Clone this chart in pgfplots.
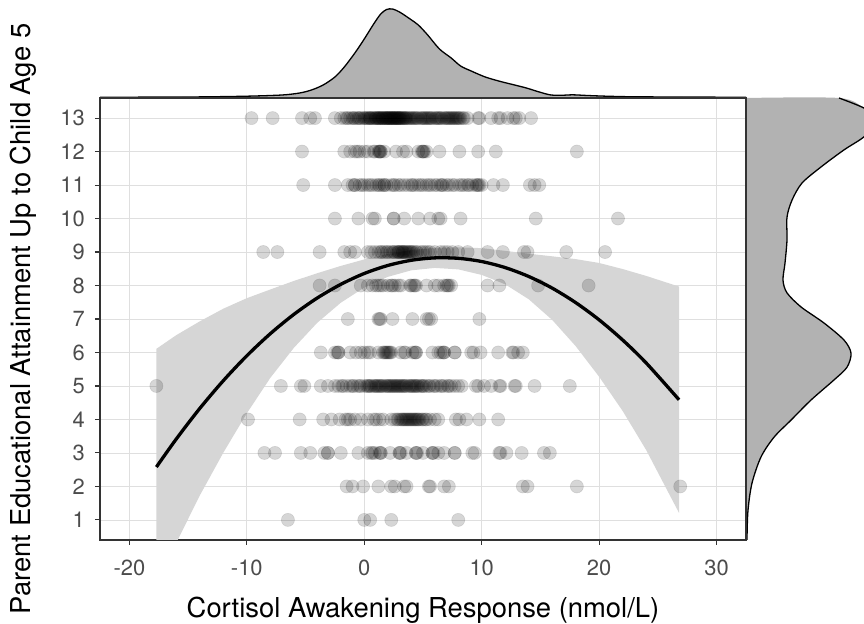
\documentclass[border=0pt]{standalone}
\usepackage{fontspec}
\setmainfont{TeX Gyre Heros}
\usepackage{pgfplots}
\pgfplotsset{compat=1.18}
\usepackage{pgfplotstable}

\pgfplotstableread{
x h
-22.5 0.7
-18 0.9
-14 1.1
-10 1.8
-7 3.0
-5.5 5.0
-4.5 8
-3.5 13
-2.5 21
-1.7 31
-0.8 45
0.0 59
0.8 74
1.4 84
1.9 88.5
2.4 89
3.0 86
3.9 79
4.6 73
5.4 63
6.4 49
7.4 40
8.2 32
9.1 27
10.3 21
11.6 16.5
12.8 13
13.8 10
14.9 6
15.9 3
17.0 2.8
17.7 3.2
19 2.5
20.6 1.8
23 1.2
27 1.0
32.5 0.7
}\topdens

\pgfplotstableread{
w y
1 0.4
1 0.49
2 1.29
6 2.10
15 2.88
28 3.47
45 3.98
65 4.58
88 5.18
101 5.56
105 5.98
98 6.37
78 6.88
55 7.36
41 7.78
37 8.16
39 8.67
41 9.36
41 10.04
46 10.55
56 11.06
75 11.54
98 12.05
118 12.44
135 12.95
118 13.30
93 13.6
}\rightdens

\pgfplotstableread{
w y
0 0.4
1 0.4
1 0.49
2 1.29
6 2.10
15 2.88
28 3.47
45 3.98
65 4.58
88 5.18
101 5.56
105 5.98
98 6.37
78 6.88
55 7.36
41 7.78
37 8.16
39 8.67
41 9.36
41 10.04
46 10.55
56 11.06
75 11.54
98 12.05
118 12.44
135 12.95
118 13.30
93 13.6
0 13.6
}\rightfill

\definecolor{densfill}{gray}{0.70}
\definecolor{bandfill}{gray}{0.84}
\definecolor{gridc}{gray}{0.875}
\definecolor{framec}{gray}{0.20}
\definecolor{tickc}{gray}{0.30}

\begin{document}
\begin{tikzpicture}
\useasboundingbox (0,0) rectangle (864bp,624bp);
\clip (0,0) rectangle (864bp,624bp);

% top marginal density
\begin{axis}[
  at={(100bp,526bp)}, anchor=south west,
  width=646bp, height=98bp, scale only axis,
  xmin=-22.5, xmax=32.5, ymin=0, ymax=98,
  hide axis]
\addplot[fill=densfill, draw=none, smooth] table[x=x,y=h] {\topdens} \closedcycle;
\addplot[black, line width=1.3bp, smooth] table[x=x,y=h] {\topdens};
\end{axis}

% right marginal density
\begin{axis}[
  at={(746bp,84bp)}, anchor=south west,
  width=118bp, height=442bp, scale only axis,
  xmin=0, xmax=118, ymin=0.4, ymax=13.6,
  hide axis]
\addplot[fill=densfill, draw=none, smooth] table[x=w,y=y] {\rightfill};
\addplot[black, line width=1.3bp, smooth] table[x=w,y=y] {\rightdens};
\end{axis}

% main panel
\begin{axis}[
  at={(100bp,84bp)}, anchor=south west,
  width=646bp, height=442bp, scale only axis,
  xmin=-22.5, xmax=32.5, ymin=0.4, ymax=13.6,
  xtick={-20,-10,0,10,20,30},
  ytick={1,2,3,4,5,6,7,8,9,10,11,12,13},
  grid=major,
  major grid style={gridc, line width=0.8bp},
  axis line style={framec, line width=1.1bp},
  tick align=outside, xtick pos=bottom, ytick pos=left,
  major tick length=5bp,
  tick style={framec, line width=1.1bp},
  /pgf/number format/assume math mode=true,
  ticklabel style={font=\fontsize{22}{26}\selectfont, text=tickc},
  xticklabel style={anchor=base, inner sep=0pt, yshift=-30bp},
  yticklabel style={anchor=east, inner sep=0pt, xshift=-10bp},
  clip=true]

% confidence band
\addplot[fill=bandfill, draw=none] coordinates {
(-17.7,6.109) (-16,6.519) (-14,6.931) (-12,7.308) (-10,7.622) (-8,7.881) (-6,8.136) (-4,8.368) (-2,8.585) (0,8.779) (2,8.938) (4,9.053) (6,9.125) (8,9.142) (10,9.116) (12,9.035) (14,8.950) (16,8.872) (18,8.789) (20,8.673) (22,8.492) (24,8.287) (26.8,7.968)
(26.8,1.208) (24,3.087) (22,4.252) (20,5.273) (18,6.189) (16,6.972) (14,7.590) (12,8.035) (10,8.316) (8,8.482) (6,8.525) (4,8.453) (2,8.258) (0,7.939) (-2,7.485) (-4,6.888) (-6,6.136) (-8,5.241) (-10,4.182) (-12,3.008) (-14,1.731) (-16,0.319) (-17.7,-0.951)
};

% points
\addplot[only marks, mark=*, mark size=6.6bp, mark options={draw=black, fill=black, draw opacity=0.10, fill opacity=0.16, line width=0.6bp}] coordinates {
(-9.6,13) (-7.8,13) (-5.3,13) (-4.6,13) (-4.2,13) (-2.5,13) (-2.0,13) (-1.7,13) (-1.4,13) (-1.2,13) (-1.0,13) (-0.8,13) (-0.6,13) (-0.4,13) (-0.3,13) (-0.1,13) (0.0,13) (0.2,13) (0.3,13) (0.5,13) (0.6,13) (0.8,13) (0.9,13) (1.0,13) (1.1,13) (1.2,13) (1.3,13) (1.4,13) (1.5,13) (1.6,13) (1.7,13) (1.8,13) (1.9,13) (2.0,13) (2.0,13) (2.1,13) (2.2,13) (2.3,13) (2.4,13) (2.5,13) (2.5,13) (2.6,13) (2.7,13) (2.8,13) (2.9,13) (3.0,13) (3.0,13) (3.1,13) (3.2,13) (3.3,13) (3.4,13) (3.5,13) (3.6,13) (3.8,13) (3.9,13) (4.0,13) (4.2,13) (4.3,13) (4.5,13) (4.6,13) (4.8,13) (5.0,13) (5.1,13) (5.3,13) (5.5,13) (5.6,13) (5.8,13) (6.0,13) (6.1,13) (6.3,13) (6.5,13) (6.6,13) (6.8,13) (7.0,13) (7.2,13) (7.3,13) (7.5,13) (7.7,13) (7.9,13) (8.0,13) (8.2,13) (8.5,13) (8.8,13) (9.7,13) (9.8,13) (10.8,13) (11.4,13) (11.6,13) (12.2,13) (12.7,13) (12.9,13) (13.2,13) (14.2,13)
(1.0,13) (1.3,13) (1.6,13) (1.9,13) (2.2,13) (2.4,13) (2.7,13) (2.9,13) (3.1,13) (3.3,13) (1.5,13) (2.1,13) (2.6,13) (0.4,13) (3.7,13) (6.2,13) (6.9,13) (7.4,13) (7.8,13) (0.7,13) (-0.5,13) (4.1,13) (5.4,13)
(4.4,13) (4.9,13) (5.2,13) (5.7,13) (6.4,13) (7.1,13) (7.6,13) (8.1,13) (8.4,13) (0.1,13) (-1.5,13) (-0.9,13) (0.5,13) (1.2,13) (1.8,13) (2.3,13) (2.8,13) (3.5,13)
(-5.3,12) (-1.7,12) (-1.2,12) (-0.8,12) (-0.6,12) (-0.4,12) (0.0,12) (0.3,12) (0.9,12) (1.2,12) (1.3,12) (1.3,12) (1.4,12) (1.7,12) (2.7,12) (3.3,12) (3.6,12) (4.6,12) (4.9,12) (5.0,12) (5.0,12) (5.3,12) (6.4,12) (8.1,12) (9.7,12) (11.2,12) (18.1,12) (1.4,12) (5.1,12) (0.8,12)
(-5.2,11) (-2.5,11) (-1.4,11) (-1.0,11) (-0.8,11) (-0.8,11) (-0.4,11) (0.0,11) (0.3,11) (0.7,11) (1.2,11) (1.3,11) (1.5,11) (1.7,11) (1.7,11) (2.3,11) (2.5,11) (2.6,11) (3.1,11) (3.4,11) (3.7,11) (4.1,11) (4.3,11) (4.6,11) (5.0,11) (5.3,11) (5.7,11) (6.2,11) (6.5,11) (6.6,11) (6.7,11) (7.2,11) (7.7,11) (8.1,11) (8.3,11) (8.5,11) (8.8,11) (9.2,11) (9.6,11) (9.7,11) (9.8,11) (10.0,11) (11.0,11) (11.8,11) (14.1,11) (14.5,11) (14.9,11)
(0.5,11) (1.0,11) (1.9,11) (2.9,11) (4.0,11) (4.8,11) (5.5,11) (6.0,11) (7.0,11) (7.5,11) (8.9,11) (9.5,11) (-0.2,11)
(-2.5,10) (-0.5,10) (0.7,10) (0.9,10) (2.5,10) (2.5,10) (3.4,10) (4.6,10) (5.6,10) (6.3,10) (6.5,10) (8.2,10) (14.6,10) (21.6,10)
(-8.6,9) (-7.4,9) (-3.8,9) (-1.7,9) (-1.2,9) (-0.8,9) (0.6,9) (0.9,9) (1.2,9) (1.5,9) (1.7,9) (2.0,9) (2.2,9) (2.4,9) (2.6,9) (2.8,9) (2.9,9) (3.0,9) (3.1,9) (3.2,9) (3.3,9) (3.4,9) (3.5,9) (3.6,9) (3.8,9) (3.9,9) (4.0,9) (4.2,9) (4.5,9) (4.8,9) (5.2,9) (5.6,9) (6.0,9) (6.5,9) (7.1,9) (7.5,9) (8.0,9) (8.8,9) (10.5,9) (11.8,9) (13.6,9) (13.9,9) (17.2,9) (20.5,9)
(2.5,9) (2.9,9) (3.3,9) (3.7,9) (4.1,9) (4.4,9) (1.4,9) (1.9,9) (5.0,9) (5.4,9) (6.8,9) (0.3,9)
(-3.8,8) (-2.5,8) (-0.3,8) (0.3,8) (0.7,8) (1.2,8) (1.4,8) (1.6,8) (2.0,8) (2.3,8) (2.6,8) (2.9,8) (3.1,8) (3.9,8) (4.0,8) (4.3,8) (4.4,8) (5.3,8) (6.0,8) (6.3,8) (6.8,8) (7.1,8) (7.2,8) (7.4,8) (10.5,8) (11.5,8) (14.8,8) (19.1,8) (2.4,8) (1.0,8) (7.0,8) (4.2,8)
(-1.4,7) (1.2,7) (1.3,7) (1.4,7) (2.4,7) (4.1,7) (5.3,7) (5.5,7) (5.7,7) (9.8,7)
(-3.7,6) (-2.5,6) (-2.2,6) (-2.2,6) (-1.2,6) (-0.7,6) (-0.3,6) (0.0,6) (0.5,6) (1.2,6) (1.6,6) (1.7,6) (1.9,6) (2.0,6) (2.1,6) (2.3,6) (3.1,6) (3.4,6) (4.1,6) (4.4,6) (4.4,6) (5.8,6) (6.3,6) (6.5,6) (6.8,6) (6.8,6) (7.7,6) (7.7,6) (9.1,6) (9.3,6) (9.9,6) (11.4,6) (12.6,6) (12.7,6) (13.1,6) (13.5,6)
(1.8,6) (2.2,6) (-2.3,6) (6.7,6) (4.3,6) (0.3,6) (3.5,6)
(-17.7,5) (-7.1,5) (-5.4,5) (-5.1,5) (-3.7,5) (-3.1,5) (-2.5,5) (-2.2,5) (-1.9,5) (-1.5,5) (-1.2,5) (-0.9,5) (-0.6,5) (-0.3,5) (0.0,5) (0.2,5) (0.4,5) (0.6,5) (0.8,5) (1.0,5) (1.2,5) (1.4,5) (1.6,5) (1.8,5) (2.0,5) (2.2,5) (2.4,5) (2.6,5) (2.8,5) (3.0,5) (3.2,5) (3.4,5) (3.6,5) (3.8,5) (4.0,5) (4.2,5) (4.4,5) (4.6,5) (4.8,5) (5.0,5) (5.3,5) (5.6,5) (5.9,5) (6.2,5) (6.5,5) (6.8,5) (7.1,5) (7.4,5) (7.7,5) (8.0,5) (8.3,5) (0.3,5) (0.9,5) (1.5,5) (2.1,5) (2.7,5) (3.1,5) (3.5,5) (4.1,5) (4.5,5) (5.1,5) (1.1,5) (2.3,5) (9.5,5) (9.7,5) (10.2,5) (10.8,5) (11.5,5) (11.6,5) (12.8,5) (12.9,5) (14.5,5) (17.5,5)
(-1.0,5) (-0.4,5) (0.5,5) (1.3,5) (1.9,5) (2.5,5) (2.9,5) (3.3,5) (3.9,5) (4.3,5) (4.9,5) (5.5,5) (6.0,5) (6.6,5) (7.2,5) (-1.8,5)
(-9.9,4) (-5.5,4) (-3.5,4) (-2.8,4) (-2.1,4) (-1.4,4) (-1.2,4) (-0.8,4) (-0.3,4) (0.3,4) (1.0,4) (1.6,4) (2.3,4) (2.6,4) (2.9,4) (3.1,4) (3.3,4) (3.5,4) (3.7,4) (3.9,4) (4.1,4) (4.3,4) (4.5,4) (4.7,4) (5.0,4) (5.3,4) (5.6,4) (6.0,4) (6.3,4) (3.4,4) (4.0,4) (4.4,4) (3.8,4) (7.8,4) (8.1,4) (8.7,4) (9.8,4) (11.4,4)
(2.8,4) (3.2,4) (3.6,4) (4.2,4) (4.6,4) (4.9,4) (5.2,4) (-1.6,4) (0.8,4) (1.3,4)
(-8.5,3) (-7.6,3) (-5.4,3) (-4.6,3) (-3.4,3) (-3.1,3) (-3.1,3) (-2.0,3) (-0.5,3) (0.3,3) (0.6,3) (0.9,3) (1.4,3) (1.4,3) (2.2,3) (3.0,3) (3.0,3) (3.6,3) (4.4,3) (4.4,3) (5.0,3) (5.8,3) (5.9,3) (6.3,3) (6.8,3) (7.7,3) (7.7,3) (9.2,3) (9.4,3) (11.5,3) (11.6,3) (12.1,3) (13.4,3) (15.3,3) (15.8,3)
(1.3,3) (3.1,3) (5.8,3) (4.5,3) (0.7,3)
(-1.5,2) (-1.0,2) (-0.1,2) (1.2,2) (2.3,2) (2.6,2) (3.4,2) (3.6,2) (5.5,2) (5.6,2) (6.8,2) (7.2,2) (13.5,2) (13.9,2) (18.1,2) (26.9,2)
(-6.5,1) (0.0,1) (0.5,1) (2.3,1) (8.0,1)
};

% fitted quadratic
\addplot[black, line width=3.3bp, smooth] coordinates {
(-17.7,2.579) (-16,3.419) (-14,4.331) (-12,5.158) (-10,5.902) (-8,6.561) (-6,7.136) (-4,7.628) (-2,8.035) (0,8.359) (2,8.598) (4,8.753) (6,8.825) (8,8.812) (10,8.716) (12,8.535) (14,8.270) (16,7.922) (18,7.489) (20,6.973) (22,6.372) (24,5.687) (26.8,4.588)
};
\end{axis}

\node[anchor=base, font=\fontsize{27.5}{32}\selectfont] at (423bp,7bp) {Cortisol Awakening Response (nmol/L)};
\node[anchor=base, rotate=90, font=\fontsize{27.5}{32}\selectfont] at (30bp,305bp) {Parent Educational Attainment Up to Child Age 5};
\end{tikzpicture}
\end{document}
